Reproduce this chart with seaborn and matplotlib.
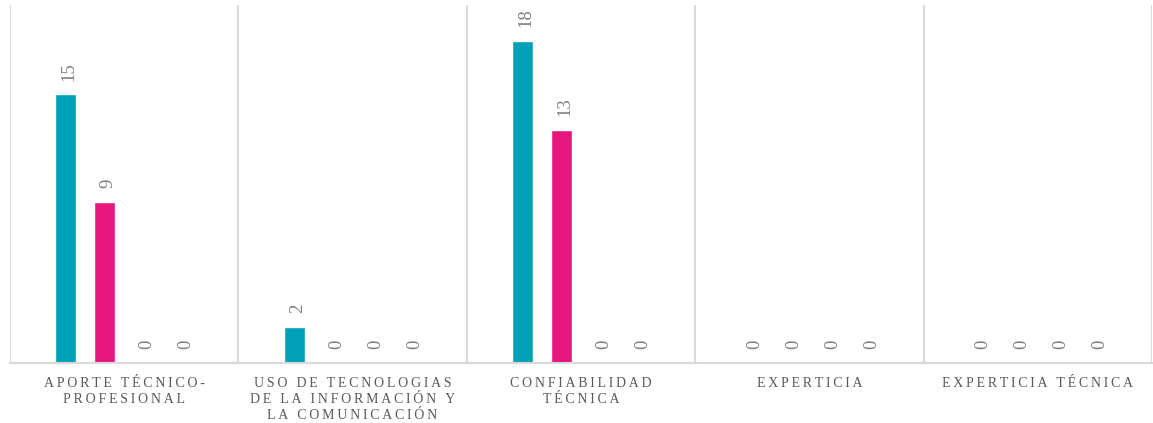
import matplotlib
matplotlib.use("Agg")
import matplotlib.pyplot as plt
import seaborn as sns
import pandas as pd

categories = ["APORTE TÉCNICO-\nPROFESIONAL",
              "USO DE TECNOLOGIAS\nDE LA INFORMACIÓN Y\nLA COMUNICACIÓN",
              "CONFIABILIDAD\nTÉCNICA",
              "EXPERTICIA",
              "EXPERTICIA TÉCNICA"]
series_names = ["Serie 1", "Serie 2", "Serie 3", "Serie 4"]
serie1 = [15, 2, 18, 0, 0]
serie2 = [9, 0, 13, 0, 0]
serie3 = [0, 0, 0, 0, 0]
serie4 = [0, 0, 0, 0, 0]
colors = ["#00A0B8", "#E8177D", "#7F7F7F", "#F2A900"]

rows = []
for name, vals in zip(series_names, [serie1, serie2, serie3, serie4]):
    for c, v in zip(categories, vals):
        rows.append({"cat": c, "serie": name, "valor": v})
df = pd.DataFrame(rows)

sns.set_theme(style="white")
plt.rcParams['font.family'] = ['Liberation Serif', 'DejaVu Serif']

fig = plt.figure(figsize=(11.53, 4.23), dpi=100)
ax = fig.add_axes([10/1153, 60/423, 1142/1153, 358/423])

sns.barplot(data=df, x="cat", y="valor", hue="serie", palette=colors,
            width=0.683, ax=ax, legend=False, saturation=1)

frac = 0.54
for p in ax.patches:
    w = p.get_width()
    x = p.get_x()
    p.set_width(w * frac)
    p.set_x(x + w * (1 - frac) / 2)

for cont in ax.containers:
    texts = ax.bar_label(cont, labels=[f"{int(v)}" for v in cont.datavalues],
                         rotation=90, padding=10, fontsize=13.5, color="#7F7F7F")
    for t in texts:
        t.xyann = (2.5, 10)

ax.set_ylim(0, 20)
ax.set_xlim(-0.5, len(categories) - 0.5)
ax.set_yticks([])
ax.set_xlabel("")
ax.set_ylabel("")
for s in ["top", "right", "left"]:
    ax.spines[s].set_visible(False)
ax.spines["bottom"].set_color("#D9D9D9")
ax.spines["bottom"].set_linewidth(1.5)
for i in range(len(categories) + 1):
    ax.axvline(i - 0.5, color="#D9D9D9", lw=1.5, zorder=0)


def spaced(label):
    # visual letter spacing, as in the original chart
    return "\n".join("\u2009 \u2009".join("\u2009".join(word) for word in line.split(" "))
                     for line in label.split("\n"))


ax.set_xticks(range(len(categories)))
ax.set_xticklabels([spaced(c) for c in categories])
ax.tick_params(axis="x", length=0, pad=10)
for t in ax.get_xticklabels():
    t.set_fontsize(10)
    t.set_color("#595959")
    t.set_linespacing(1.3)

fig.savefig("out.png", dpi=100)
